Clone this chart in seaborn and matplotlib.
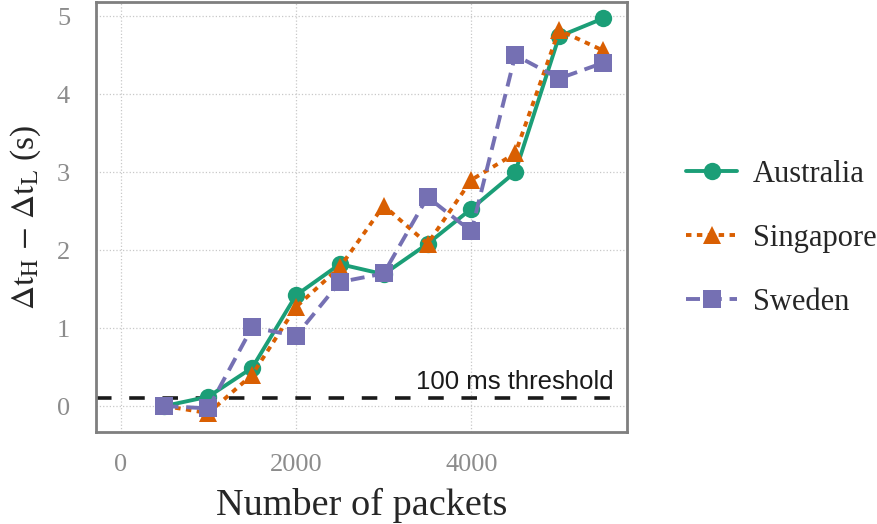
import pandas as pd
import matplotlib
matplotlib.use("Agg")
import matplotlib.pyplot as plt
import seaborn as sns

# ------------------------------------------------------------------
# Data
packets = [500, 1000, 1500, 2000, 2500, 3000, 3500, 4000, 4500, 5000, 5500]
australia = [0.00, 0.12, 0.49, 1.42, 1.82, 1.69, 2.08, 2.53, 3.00, 4.74, 4.97]
singapore = [0.00, -0.09, 0.40, 1.27, 1.78, 2.57, 2.08, 2.90, 3.24, 4.82, 4.56]
sweden = [0.00, -0.03, 1.01, 0.90, 1.59, 1.70, 2.68, 2.24, 4.50, 4.20, 4.40]
countries = ["Australia", "Singapore", "Sweden"]
threshold = 0.1
x_ticks = [0, 2000, 4000]
y_ticks = [0, 1, 2, 3, 4, 5]

df = pd.concat([
    pd.DataFrame({"packets": packets, "delta": vals, "country": name})
    for name, vals in zip(countries, [australia, singapore, sweden])
])

# ------------------------------------------------------------------
sns.set_style("white")
plt.rcParams["font.family"] = ["Liberation Serif", "DejaVu Serif"]
plt.rcParams["mathtext.fontset"] = "stix"

palette = {"Australia": "#1b9e77", "Singapore": "#d95f02", "Sweden": "#7570b3"}
markers = {"Australia": "o", "Singapore": "^", "Sweden": "s"}
dashes = {"Australia": "", "Singapore": (1.4, 1.4), "Sweden": (3.6, 2.0)}

fig = plt.figure(figsize=(8.77, 5.24), dpi=100)
ax = fig.add_axes([0.110, 0.176, 0.605, 0.820])

sns.lineplot(data=df, x="packets", y="delta", hue="country", style="country",
             palette=palette, markers=markers, dashes=dashes,
             linewidth=2.8, markersize=12.5, markeredgewidth=0, ax=ax)

ax.axhline(threshold, color="#1a1a1a", lw=2.6, ls=(0, (4.3, 4.9)), zorder=1)
ax.text(5620, threshold + 0.06, "100 ms threshold", family="Liberation Sans",
        fontsize=18.5, color="#1a1a1a", ha="right", va="bottom")

ax.set_xlim(-275, 5775)
ax.set_ylim(-0.33, 5.18)
ax.set_xticks(x_ticks)
ax.set_yticks(y_ticks)
ax.tick_params(axis="both", direction="out", length=10, width=1.3,
               color="#333333", labelcolor="#8c8c8c", labelsize=19)
ax.tick_params(axis="y", pad=9)
ax.tick_params(axis="x", pad=6)
ax.grid(True, ls=":", color="#c8c8c8", lw=0.9)
for sp in ax.spines.values():
    sp.set_color("#7f7f7f")
    sp.set_linewidth(2)

ax.set_xlabel("Number of packets", fontsize=27.5)
ax.set_ylabel(r"$\Delta\mathrm{t_H}$ $-$ $\Delta\mathrm{t_L}$ (s)", fontsize=24)
ax.xaxis.set_label_coords(0.5, -0.13)
ax.yaxis.set_label_coords(-0.10, 0.5)

leg = ax.legend(loc="center left", bbox_to_anchor=(1.06, 0.45), frameon=False,
                fontsize=22, labelspacing=1.15, handlelength=1.67, handletextpad=0.5,
                title=None)
for h in leg.legend_handles:
    h.set_markersize(12.5)
    h.set_linewidth(2.8)

fig.savefig("out.png", dpi=100)
